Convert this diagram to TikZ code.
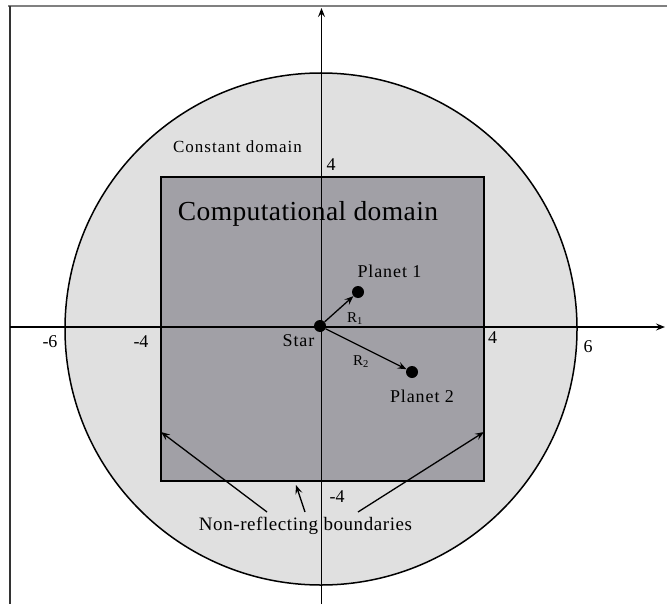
\documentclass[tikz,border=0pt]{standalone}
\usepackage{fontspec}
\setmainfont{Liberation Serif}
\usetikzlibrary{positioning,arrows.meta}
\definecolor{constgray}{RGB}{224,224,224}
\definecolor{compgray}{RGB}{161,160,166}

\begin{document}
\begin{tikzpicture}[x=1pt, y=-1pt, >={Stealth[length=9pt,width=7pt,inset=3.5pt]},
    font=\fontsize{18}{20}\selectfont,
    body/.style={circle, fill=black, inner sep=0pt, minimum size=12pt},
    txt/.style={anchor=base, inner sep=0pt},
    tick/.style={txt},
    spaced/.style={txt, font=\fontsize{18}{20}\selectfont\addfontfeatures{LetterSpace=5}},
    vec/.style={->, line width=1.3pt}]
    \useasboundingbox (0,0) rectangle (668,604);

    % frame
    \draw[gray, line width=2pt] (8,6) -- (667,6);
    \draw[black!80, line width=2pt] (10,6) -- (10,604);

    % constant and computational domains
    \filldraw[fill=constgray, line width=1.5pt] (321,329) circle (256pt);
    \filldraw[fill=compgray, line width=2.6pt] (161,177) rectangle (484,481);

    % axes
    \draw[vec] (10,327) -- (665,327);
    \draw[vec] (321.5,604) -- (321.5,8);

    \node[tick] (xm6) at (50,347) {-6};
    \node[tick] (xm4) at (141,347) {-4};
    \node[tick] (xp4) at (492.5,343) {4};
    \node[tick] (xp6) at (588,352) {6};
    \node[tick] (yp4) at (331,171) {4};
    \node[tick] (ym4) at (337,502) {-4};

    \node[txt, font=\fontsize{17}{19}\selectfont\addfontfeatures{LetterSpace=6}]
        (const) at (237.5,153) {Constant domain};
    \node[txt, font=\fontsize{27.5}{30}\selectfont\addfontfeatures{LetterSpace=1.5}]
        (comp) at (308,220) {Computational domain};

    % star and planets
    \node[body] (star) at (320,326) {};
    \node[body] (p1) at (358,292) {};
    \node[body] (p2) at (412,372) {};
    \draw[vec] (star) -- (p1);
    \draw[vec] (star) -- (p2);

    \node[spaced] (lstar) at (298.5,346) {Star};
    \node[spaced] (lp1) at (389.5,277) {Planet 1};
    \node[spaced] (lp2) at (422,402) {Planet 2};
    \node[txt, font=\fontsize{15}{17}\selectfont] (r1) at (355,322) {R\textsubscript{1}};
    \node[txt, font=\fontsize{15}{17}\selectfont] (r2) at (361,365) {R\textsubscript{2}};

    % non-reflecting boundaries
    \node[txt, font=\fontsize{19}{21}\selectfont\addfontfeatures{LetterSpace=3}]
        (nrb) at (305.5,530) {Non-reflecting boundaries};
    \coordinate (bl) at (161,432);
    \coordinate (bb) at (296,485);
    \coordinate (br) at (484,432);
    \draw[vec] (267,512) -- (bl);
    \draw[vec] (305,512) -- (bb);
    \draw[vec] (358,512) -- (br);
\end{tikzpicture}
\end{document}
